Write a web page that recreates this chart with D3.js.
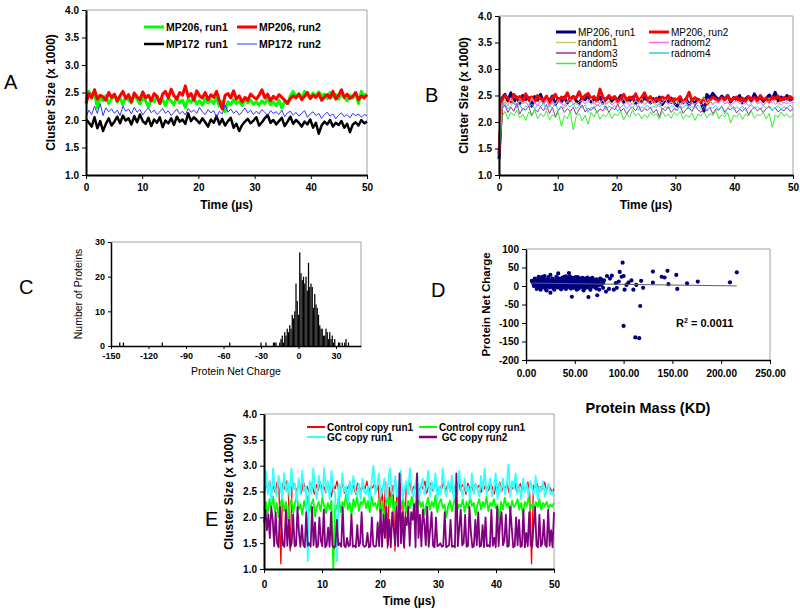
<!DOCTYPE html>
<html><head><meta charset="utf-8">
<script src="https://cdn.jsdelivr.net/npm/d3@7"></script>
<style>
body{margin:0;background:#fff}
svg text{font-family:Arial,"Liberation Sans",sans-serif;fill:#000}
</style></head><body>
<svg id="c" width="800" height="610"></svg>
<script>
// ---------------- Panel A data (cluster size x1000, evenly sampled over 0-50 µs)
const A_labels = ["MP206, run1","MP206, run2","MP172  run1","MP172  run2"];
const A_mp206_run1 = [2.38,2.52,2.45,2.50,2.22,2.41,2.35,2.44,2.30,2.38,2.45,2.33,2.40,2.28,2.42,2.36,2.31,2.44,2.38,2.29,2.41,2.35,2.24,2.39,2.33,2.43,2.30,2.37,2.26,2.40,2.34,2.28,2.42,2.31,2.36,2.23,2.38,2.32,2.40,2.29,2.35,2.27,2.38,2.31,2.36,2.30,2.41,2.25,2.34,2.15,2.33,2.28,2.37,2.30,2.34,2.26,2.39,2.31,2.36,2.29,2.33,2.27,2.35,2.30,2.38,2.28,2.33,2.26,2.36,2.22,2.34,2.30,2.44,2.52,2.43,2.48,2.40,2.52,2.45,2.41,2.49,2.43,2.51,2.44,2.47,2.39,2.50,2.42,2.46,2.38,2.48,2.41,2.35,2.45,2.40,2.49,2.30,2.52,2.44,2.47];
const A_mp206_run2 = [2.30,2.48,2.40,2.55,2.38,2.45,2.42,2.36,2.50,2.41,2.47,2.35,2.44,2.52,2.39,2.46,2.33,2.49,2.42,2.37,2.51,2.40,2.45,2.35,2.48,2.43,2.30,2.47,2.52,2.40,2.56,2.44,2.38,2.50,2.45,2.62,2.42,2.48,2.36,2.53,2.44,2.40,2.50,2.37,2.46,2.41,2.52,2.35,2.20,2.45,2.48,2.40,2.53,2.38,2.44,2.33,2.41,2.36,2.47,2.42,2.38,2.45,2.55,2.40,2.47,2.35,2.43,2.38,2.46,2.41,2.36,2.30,2.39,2.44,2.40,2.47,2.37,2.43,2.50,2.39,2.45,2.41,2.48,2.36,2.42,2.46,2.40,2.52,2.38,2.45,2.55,2.41,2.47,2.39,2.43,2.50,2.37,2.44,2.40,2.46];
const A_mp172_run1 = [2.02,1.95,1.88,2.05,1.85,1.98,1.80,1.93,2.03,1.90,1.97,2.06,1.94,2.08,1.99,2.03,1.92,2.07,1.96,2.10,1.98,1.93,2.04,1.89,2.01,1.95,2.05,1.87,1.99,1.94,2.03,1.91,2.06,1.97,2.01,1.93,2.12,1.98,2.05,2.00,1.94,2.03,1.96,1.88,2.01,1.95,2.07,1.92,2.02,1.90,1.98,2.04,1.86,1.93,1.80,1.91,1.97,2.02,1.94,1.99,2.05,1.90,1.96,2.03,2.09,1.95,2.00,1.92,1.98,2.04,1.89,1.97,2.06,1.93,2.00,1.95,1.88,1.97,1.92,2.01,1.86,1.95,1.75,1.90,1.97,1.92,2.00,1.88,1.95,1.91,1.98,1.86,1.93,1.78,1.92,1.96,1.90,2.00,1.94,1.97];
const A_mp172_run2 = [2.05,2.18,2.10,2.25,2.12,2.30,2.08,2.22,2.15,2.20,2.12,2.18,2.08,2.25,2.16,2.20,2.11,2.23,2.14,2.19,2.09,2.17,2.22,2.13,2.18,2.10,2.15,2.21,2.12,2.17,2.08,2.14,2.20,2.11,2.16,2.09,2.21,2.14,2.18,2.12,2.23,2.15,2.10,2.19,2.13,2.17,2.05,2.16,2.11,2.28,2.14,2.20,2.12,2.17,2.09,2.15,2.22,2.13,2.18,2.10,2.16,2.11,2.19,2.14,2.08,2.17,2.12,2.15,2.10,2.18,2.06,2.13,2.16,2.09,2.14,2.07,2.12,2.17,2.05,2.11,2.15,2.08,2.12,2.03,2.10,2.14,2.07,2.11,2.02,2.09,2.13,2.06,2.10,2.04,2.12,2.08,2.11,2.05,2.10,2.08];

// ---------------- Panel B data
const B_labels = ["MP206, run1","MP206, run2","random1","radnom2","random3","radnom4","random5"];
const B_mp206_run1 = [1.30,2.45,2.52,2.40,2.55,2.38,2.47,2.35,2.50,2.42,2.46,2.30,2.48,2.41,2.52,2.37,2.45,2.40,2.49,2.33,2.44,2.38,2.47,2.36,2.43,2.48,2.40,2.35,2.46,2.42,2.50,2.38,2.44,2.40,2.47,2.36,2.43,2.48,2.39,2.45,2.41,2.50,2.37,2.44,2.40,2.47,2.35,2.42,2.38,2.46,2.41,2.36,2.44,2.39,2.47,2.33,2.42,2.38,2.45,2.36,2.30,2.41,2.37,2.44,2.32,2.40,2.35,2.43,2.38,2.20,2.52,2.45,2.54,2.47,2.41,2.49,2.43,2.50,2.38,2.46,2.42,2.50,2.36,2.44,2.48,2.40,2.53,2.42,2.47,2.39,2.45,2.51,2.43,2.56,2.40,2.47,2.43,2.50,2.41,2.45];
const B_mp206_run2 = [1.40,2.42,2.50,2.45,2.38,2.52,2.44,2.48,2.40,2.53,2.43,2.47,2.38,2.50,2.44,2.41,2.49,2.36,2.46,2.52,2.40,2.47,2.43,2.55,2.41,2.48,2.45,2.57,2.43,2.50,2.54,2.44,2.48,2.40,2.62,2.46,2.42,2.50,2.44,2.48,2.38,2.45,2.52,2.41,2.47,2.43,2.53,2.40,2.46,2.55,2.42,2.48,2.38,2.45,2.40,2.47,2.43,2.50,2.37,2.44,2.41,2.48,2.36,2.43,2.56,2.40,2.46,2.42,2.38,2.45,2.34,2.41,2.47,2.43,2.39,2.46,2.42,2.49,2.40,2.44,2.47,2.41,2.45,2.39,2.48,2.43,2.46,2.40,2.50,2.42,2.45,2.38,2.47,2.44,2.49,2.41,2.46,2.43,2.48,2.44];
const B_random1 = [1.20,2.35,2.42,2.30,2.45,2.38,2.32,2.44,2.36,2.40,2.31,2.46,2.37,2.33,2.41,2.35,2.43,2.30,2.39,2.34,2.42,2.36,2.31,2.40,2.35,2.44,2.32,2.38,2.41,2.34,2.37,2.45,2.33,2.39,2.36,2.42,2.31,2.38,2.35,2.41,2.33,2.37,2.44,2.35,2.39,2.32,2.40,2.36,2.45,2.34,2.38,2.42,2.35,2.31,2.39,2.36,2.43,2.33,2.38,2.35,2.41,2.32,2.37,2.40,2.34,2.38,2.31,2.36,2.42,2.46,2.35,2.39,2.33,2.40,2.36,2.43,2.34,2.38,2.32,2.37,2.41,2.35,2.39,2.33,2.40,2.36,2.42,2.34,2.38,2.31,2.37,2.40,2.35,2.42,2.33,2.38,2.36,2.40,2.34,2.38];
const B_random2 = [1.50,2.30,2.38,2.33,2.42,2.35,2.28,2.40,2.34,2.37,2.30,2.43,2.36,2.31,2.39,2.34,2.41,2.29,2.37,2.33,2.40,2.35,2.30,2.38,2.43,2.34,2.37,2.31,2.39,2.35,2.41,2.33,2.38,2.30,2.36,2.42,2.34,2.39,2.32,2.37,2.35,2.40,2.33,2.38,2.31,2.36,2.41,2.34,2.38,2.32,2.37,2.35,2.40,2.33,2.29,2.36,2.42,2.34,2.38,2.31,2.36,2.33,2.39,2.35,2.30,2.37,2.34,2.40,2.32,2.38,2.35,2.41,2.33,2.37,2.36,2.43,2.34,2.38,2.31,2.36,2.40,2.35,2.33,2.38,2.30,2.36,2.41,2.34,2.37,2.32,2.39,2.35,2.42,2.33,2.38,2.31,2.37,2.34,2.40,2.36];
const B_random3 = [1.10,2.25,2.32,2.18,2.28,2.20,2.35,2.15,2.26,2.22,2.30,2.12,2.24,2.19,2.29,2.21,2.33,2.16,2.27,2.10,2.23,2.30,2.18,2.25,2.20,2.28,2.14,2.24,2.32,2.19,2.26,2.22,2.29,2.17,2.25,2.21,2.30,2.18,2.27,2.23,2.34,2.20,2.26,2.15,2.24,2.28,2.21,2.31,2.19,2.25,2.22,2.28,2.17,2.24,2.10,2.26,2.21,2.29,2.18,2.25,2.22,2.30,2.16,2.24,2.27,2.20,2.32,2.23,2.18,2.26,2.21,2.28,2.15,2.25,2.22,2.30,2.19,2.26,2.23,2.29,2.17,2.24,2.20,2.27,2.14,2.23,2.28,2.21,2.26,2.18,2.25,2.30,2.22,2.27,2.19,2.24,2.21,2.28,2.20,2.25];
const B_random4 = [1.35,2.28,2.35,2.24,2.31,2.38,2.26,2.33,2.22,2.30,2.27,2.34,2.25,2.32,2.29,2.36,2.23,2.31,2.27,2.34,2.21,2.29,2.26,2.33,2.28,2.35,2.24,2.30,2.27,2.32,2.18,2.28,2.25,2.33,2.29,2.36,2.23,2.30,2.26,2.31,2.20,2.28,2.33,2.25,2.30,2.27,2.34,2.22,2.29,2.26,2.32,2.24,2.30,2.27,2.35,2.23,2.29,2.25,2.31,2.28,2.22,2.30,2.26,2.33,2.24,2.29,2.27,2.32,2.25,2.30,2.23,2.28,2.26,2.31,2.24,2.29,2.15,2.27,2.32,2.24,2.28,2.25,2.30,2.22,2.27,2.33,2.25,2.29,2.23,2.30,2.26,2.28,2.21,2.27,2.31,2.24,2.29,2.26,2.32,2.27];
const B_random5 = [1.60,2.10,2.20,2.05,2.18,2.12,2.22,2.08,2.15,2.03,2.19,2.11,2.24,2.06,2.16,2.10,2.21,2.04,2.14,2.08,2.18,1.92,2.12,2.06,2.20,1.85,2.10,2.16,2.02,2.13,1.96,2.18,2.09,2.22,2.05,2.14,2.10,2.19,2.07,2.15,2.12,2.20,2.04,2.16,2.09,2.23,2.11,2.17,2.06,2.14,2.08,2.19,2.12,2.16,2.05,2.21,2.10,2.15,2.07,2.18,2.12,2.20,2.06,2.14,2.09,2.17,2.03,2.15,2.11,2.19,2.08,2.16,2.12,2.22,2.06,2.14,2.10,2.18,1.98,2.13,2.09,2.17,2.05,2.15,2.11,2.20,2.07,2.14,2.12,2.18,2.06,2.16,1.90,2.13,2.09,2.19,2.11,2.15,2.08,2.14];

// ---------------- Panel C data (histogram of protein net charge)
const C_charge = [-143,-140,-109,-55,-30,-26,-20,-19,-18,-15,-14,-13,-12,-11,-10,-9,-8,-7,-6,-5,-4,-3,-2,-1,0,1,2,3,4,5,6,7,8,9,10,11,12,13,14,15,16,17,18,19,20,21,22,23,24,25,26,27,28,29,32,33,35,37,38,40];
const C_count  = [1,1,1,1,1,1,1,1,1,1,2,3,1,4,3,5,4,6,5,9,8,10,18,13,9,27,21,19,20,18,20,16,24,17,18,17,11,15,12,11,9,6,5,5,3,3,5,4,2,4,2,3,1,2,1,1,1,1,2,1];
const C_xTicks = [-150,-120,-90,-60,-30,0,30];
const C_yTicks = [0,10,20,30];

// ---------------- Panel D data (protein mass KD, net charge)
const D_mass = [6,7,8,8,9,9,10,10,11,11,12,12,12,13,13,14,14,14,15,15,15,16,16,16,17,17,17,18,18,18,19,19,20,20,20,21,21,22,22,22,23,23,24,24,24,25,25,25,26,26,27,27,28,28,29,29,30,30,31,31,32,32,33,33,34,34,35,35,36,36,37,37,38,38,39,39,40,40,41,41,42,42,43,43,44,44,45,45,46,46,47,47,48,48,49,49,50,50,51,51,52,52,53,53,54,54,55,55,56,56,57,57,58,58,59,59,60,60,61,61,62,62,63,63,64,64,65,65,66,66,67,67,68,68,69,70,70,71,72,72,73,73,74,75,75,76,77,78,79,80,
8,10,12,14,16,18,20,22,24,26,28,30,32,34,36,38,40,42,44,46,48,50,52,54,56,58,60,62,64,66,68,70,9,11,13,15,19,21,23,27,29,33,35,37,39,41,43,45,47,49,51,53,55,57,59,61,63,65,67,69,71,74,77,79,
83,86,88,90,92,95,96,98,99,100,100,101,103,105,108,110,112,113,117,116,118,120,130,130,139,142,145,146,154,155,165,176,209,216,85,93,82];
const D_charge = [14,10,5,12,3,8,15,1,6,11,-2,4,18,9,2,7,13,-5,22,3,10,0,6,16,25,8,-3,4,12,20,1,9,-8,5,14,2,18,7,-1,11,24,4,9,-4,15,30,3,-18,8,12,1,20,6,-6,10,3,16,-2,7,25,4,12,34,-1,8,18,2,10,-9,5,14,22,1,8,-4,12,6,19,3,26,9,-2,15,4,35,7,1,12,-7,18,5,-29,10,22,3,14,-3,8,16,1,11,-10,6,24,2,13,-5,8,18,3,10,-1,22,5,12,-8,7,15,2,20,9,-4,14,5,-30,11,18,1,7,-10,13,3,22,8,-2,15,5,10,-7,18,4,-25,12,7,-10,20,3,11,-5,15,
0,7,10,2,11,-1,9,3,6,0,14,8,-4,3,11,16,0,13,-3,9,2,12,5,-1,10,0,-6,13,4,12,1,0,20,-8,25,-10,27,-12,12,8,-10,21,-6,-3,25,-8,20,26,16,-5,24,-8,21,17,-12,11,23,-5,20,10,-3,2,18,8,
27,20,28,-10,8,12,38,25,63,27,-108,-10,3,9,15,-10,-139,3,-54,-141,14,-5,39,9,25,23,41,5,30,-8,7,12,10,37,-8,-5,-15];
const D_xTicks = [0,50,100,150,200,250];
const D_yTicks = [-200,-150,-100,-50,0,50,100];
const D_r2 = "0.0011";

// ---------------- Panel E data
const E_labels = ["Control copy run1","Control copy run1","GC copy run1"," GC copy run2"];
const E_control_run1 = [2.45,2.62,2.55,2.70,2.50,2.60,2.48,2.68,2.57,1.10,2.65,2.55,2.70,2.52,1.35,2.60,2.66,2.50,2.58,2.64,2.47,2.70,2.55,2.60,2.50,2.66,2.57,2.45,2.63,2.52,2.68,2.55,2.60,2.48,2.65,2.57,2.40,2.62,2.55,2.70,2.50,2.58,2.65,2.47,2.60,2.55,2.68,2.52,2.62,2.45,2.66,2.58,2.50,2.63,2.55,2.70,2.48,2.60,2.57,2.65,2.50,2.62,2.10,2.55,2.00,2.68,1.40,2.58,2.30,2.62,1.35,2.55,2.20,2.66,2.50,1.40,2.62,2.55,2.68,2.48,2.60,2.57,2.65,2.50,2.62,2.55,2.70,2.47,2.60,2.66,2.52,2.58,2.64,2.45,2.60,2.55,2.68,2.50,2.62,2.57,2.65,2.48,2.60,2.55,2.70,2.52,2.63,2.58,2.45,2.66,2.55,2.60,2.50,2.64,2.57,2.62,2.48,2.68,2.55,2.60,2.52,2.66,2.58,2.45,2.62,2.55,2.68,2.50,2.60,2.57,2.64,2.48,2.62,2.55,2.70,2.50,2.58,2.65,2.52,2.60,2.55,2.68,2.47,1.10,2.62,2.58,2.65,2.50,2.60,2.55,2.68,2.52,2.60,2.57,2.48,2.55];
const E_control_run1b = [2.15,2.30,2.05,2.35,2.20,2.40,2.10,2.28,2.00,2.25,2.38,2.12,2.30,1.95,2.22,2.35,2.08,2.28,2.42,2.15,2.25,2.05,2.32,2.18,2.40,2.10,2.26,2.35,2.02,2.20,2.30,2.12,2.38,2.22,2.08,2.28,2.15,2.32,1.00,2.25,2.18,2.40,2.10,2.30,2.22,2.45,2.15,2.28,2.05,2.35,2.20,2.42,2.12,2.30,2.25,2.38,2.18,2.32,2.10,2.40,2.22,2.28,2.15,2.35,2.05,2.30,1.85,2.25,2.38,2.20,2.45,2.12,2.30,2.22,2.40,2.15,2.35,2.25,2.10,2.32,2.18,2.40,2.22,2.28,2.12,2.35,2.20,2.30,2.05,2.25,2.38,2.15,2.30,2.20,2.42,2.10,2.28,2.35,2.18,2.25,2.00,2.22,2.32,2.12,2.28,2.38,2.15,2.25,2.20,2.35,2.10,2.30,2.18,2.40,2.22,2.28,2.05,2.25,2.35,2.15,2.30,2.20,2.40,2.12,2.28,2.22,2.35,2.18,2.25,1.95,2.30,2.15,2.38,2.22,2.28,2.10,2.32,2.20,2.25,2.35,2.15,2.28,2.05,2.30,2.22,2.38,2.18,2.25,2.12,2.30,2.20,2.35,2.15,2.28,2.22,2.30,2.18,2.25,2.20,2.28];
const E_gc_run1 = [2.35,2.90,2.45,2.70,2.30,2.95,2.55,2.40,2.80,2.60,2.35,2.85,2.50,2.70,2.40,2.95,2.55,2.65,2.30,2.75,2.45,2.90,2.50,2.60,1.15,2.70,2.45,2.95,2.55,2.35,2.80,2.60,2.40,2.95,2.50,2.70,2.35,2.90,2.55,2.45,1.15,2.65,2.40,2.85,2.50,2.60,2.30,2.70,2.45,2.80,2.55,2.40,2.65,2.35,2.75,2.50,2.45,2.60,2.30,2.70,3.00,2.45,2.60,2.85,2.40,2.55,2.75,2.35,2.65,2.95,2.50,2.45,2.80,2.40,2.60,2.90,2.35,2.55,2.70,2.45,2.95,2.50,2.40,2.65,2.85,2.35,2.60,2.75,2.45,2.55,2.90,2.40,2.70,2.50,2.85,2.35,2.60,2.45,2.95,2.55,2.40,2.70,2.50,2.80,2.35,2.65,2.45,2.90,2.55,2.40,2.75,2.50,2.60,2.35,2.85,2.45,2.65,2.55,2.40,2.80,2.50,2.95,2.45,2.60,2.75,2.40,2.55,2.85,2.35,2.65,2.50,2.75,2.45,2.60,3.02,2.40,2.70,2.55,2.85,2.45,2.60,2.35,2.75,2.50,2.65,2.40,2.70,2.55,2.45,2.80,2.35,2.60,2.50,2.70,2.40,2.55,2.65,2.45,2.50,2.40];
const E_gc_run2 = [1.90,2.15,1.75,2.05,1.60,2.20,1.95,1.44,2.10,1.50,1.42,2.20,1.80,1.46,1.43,2.15,1.45,1.95,1.41,1.50,2.05,1.44,1.46,2.20,1.70,1.43,1.85,1.47,1.42,2.10,1.45,1.50,1.43,2.20,1.46,1.90,1.42,1.44,2.00,1.55,
1.44,2.15,1.42,1.46,1.80,1.43,2.10,1.45,1.41,1.44,1.95,1.46,1.50,1.43,2.20,1.45,1.42,1.60,1.44,1.46,2.05,1.43,1.45,1.42,1.85,1.44,1.50,2.10,1.46,1.43,1.45,1.70,1.42,1.44,2.00,1.46,1.43,1.45,1.90,1.44,
2.15,1.43,2.05,1.60,2.20,1.45,1.95,1.42,2.10,1.80,1.46,2.20,1.44,2.85,1.50,2.10,1.43,2.00,1.85,2.20,1.45,2.10,1.95,2.25,1.42,2.85,1.60,2.05,1.44,2.15,1.90,1.46,2.20,1.43,1.75,2.10,1.45,1.42,2.00,1.44,
1.46,1.50,1.43,1.45,2.10,1.42,1.44,1.46,1.95,1.43,1.45,1.42,2.85,1.44,1.80,2.15,1.46,1.50,2.05,1.43,1.45,2.20,1.70,1.42,1.44,1.95,1.46,2.10,1.43,1.45,1.85,1.42,2.00,1.44,1.46,1.43,2.15,1.45,1.60,1.42,
2.20,1.44,1.90,2.10,1.46,1.55,2.05,1.43,1.45,2.20,1.80,1.42,1.44,2.00,1.46,1.95,1.43,1.45,2.15,1.42,1.70,1.44,2.10,1.46,1.43,1.85,2.20,1.45,1.42,2.05,1.44,1.50,1.95,1.46,1.43,2.15,1.45,1.75,1.42,2.10];

const timeTicks = [0,10,20,30,40,50];
const sizeTicks = [1.0,1.5,2.0,2.5,3.0,3.5,4.0];

// ====================================================================
const svg = d3.select("#c");
const GRAY = "#a0a0a0";
const plainInt = d => String(d);

function styleAxis(g, w, fs, bold) {
  g.select(".domain").attr("stroke","#000").attr("stroke-width",w);
  g.selectAll(".tick line").attr("stroke","#000").attr("stroke-width",1);
  g.selectAll(".tick text").attr("font-size",fs).attr("font-weight",bold?"bold":"normal")
    .attr("font-family",'Arial,"Liberation Sans",sans-serif').attr("fill","#000");
}

function frame(box) {
  svg.append("path").attr("d",`M${box.x0},${box.y0}H${box.x1}V${box.y1}`)
    .attr("fill","none").attr("stroke",GRAY).attr("stroke-width",1);
}

function axes(box, x, y, o) {
  const gx = svg.append("g").attr("transform",`translate(0,${box.y1})`)
    .call(d3.axisBottom(x).tickValues(o.xTicks).tickSize(o.tick).tickSizeOuter(0).tickPadding(o.xPad).tickFormat(o.xFmt));
  styleAxis(gx, o.axisW, o.fs, o.bold);
  const gy = svg.append("g").attr("transform",`translate(${box.x0},0)`)
    .call(d3.axisLeft(y).tickValues(o.yTicks).tickSize(o.tick).tickSizeOuter(0).tickPadding(o.yPad).tickFormat(o.yFmt));
  styleAxis(gy, o.axisW, o.fs, o.bold);
}

function text(x, y, s, o) {
  const t = svg.append("text").attr("x",x).attr("y",y).text(s)
    .attr("font-size",o.fs).attr("font-weight",o.bold?"bold":"normal")
    .attr("text-anchor",o.anchor||"start").style("white-space","pre");
  if (o.rot) t.attr("transform",`rotate(-90,${x},${y})`);
  return t;
}

function timePanel(box, series, yTitleX, xTitleY, legend) {
  const x = d3.scaleLinear().domain([0,50]).range([box.x0, box.x1]);
  const y = d3.scaleLinear().domain([1,4]).range([box.y1, box.y0]);
  frame(box);
  series.forEach(s => {
    const n = s.values.length;
    const line = d3.line().x((d,i)=>x(i*50/(n-1))).y(d=>y(d));
    svg.append("path").datum(s.values).attr("d",line).attr("fill","none")
      .attr("stroke",s.color).attr("stroke-width",s.width).attr("stroke-linejoin","round");
  });
  axes(box, x, y, {xTicks:timeTicks, yTicks:sizeTicks, tick:4, xPad:legend.xPad||5, yPad:3,
    xFmt:plainInt, yFmt:d3.format(".1f"), axisW:2, fs:10, bold:true});
  text(yTitleX, (box.y0+box.y1)/2, "Cluster Size (x 1000)", {fs:12, bold:true, anchor:"middle", rot:true});
  text((box.x0+box.x1)/2, xTitleY, "Time (µs)", {fs:12, bold:true, anchor:"middle"});
  series.forEach((s,i) => {
    const p = legend.pos[i];
    svg.append("line").attr("x1",p[0]).attr("x2",p[0]+legend.len).attr("y1",p[1]).attr("y2",p[1])
      .attr("stroke",s.color).attr("stroke-width",s.lw||s.width);
    text(p[0]+legend.len+2, p[1]+3.5, s.label, {fs:legend.fs, bold:legend.bold});
  });
}

// ---------- Panel A
timePanel({x0:86,x1:367,y0:10,y1:175}, [
  {label:A_labels[0], values:A_mp206_run1, color:"#00ff00", width:3},
  {label:A_labels[1], values:A_mp206_run2, color:"#ff0000", width:3},
  {label:A_labels[2], values:A_mp172_run1, color:"#000000", width:2.5},
  {label:A_labels[3], values:A_mp172_run2, color:"#3333ff", width:1}
], 55, 209, {pos:[[144,27],[237,27],[144,44],[237,44]], len:20, fs:10.5, bold:true});
text(4, 89, "A", {fs:20});

// ---------- Panel B
timePanel({x0:499,x1:793,y0:16,y1:175}, [
  {label:B_labels[0], values:B_mp206_run1, color:"#000080", width:3},
  {label:B_labels[1], values:B_mp206_run2, color:"#ff0000", width:3},
  {label:B_labels[2], values:B_random1, color:"#c8c864", width:1, lw:1.5},
  {label:B_labels[3], values:B_random2, color:"#ff66ff", width:1, lw:1.5},
  {label:B_labels[4], values:B_random3, color:"#993399", width:1, lw:1.5},
  {label:B_labels[5], values:B_random4, color:"#33cccc", width:1, lw:1.5},
  {label:B_labels[6], values:B_random5, color:"#33ee33", width:1, lw:1.5}
], 468, 209, {pos:[[556,32],[649,32],[556,42.5],[649,42.5],[556,53],[649,53],[556,63.5]], len:20, fs:10, bold:false});
text(425, 102, "B", {fs:20});

// ---------- Panel C
(function(){
  const box = {x0:111,x1:361,y0:242,y1:346};
  const x = d3.scaleLinear().domain([-150,50]).range([box.x0,box.x1]);
  const y = d3.scaleLinear().domain([0,30]).range([box.y1,box.y0]);
  frame(box);
  const bw = x(1)-x(0);
  svg.append("g").selectAll("rect").data(C_charge.map((c,i)=>({c, n:C_count[i]}))).join("rect")
    .attr("x",d=>x(d.c)-bw/2).attr("width",bw).attr("y",d=>y(d.n)).attr("height",d=>y(0)-y(d.n))
    .attr("fill","#000");
  axes(box, x, y, {xTicks:C_xTicks, yTicks:C_yTicks, tick:3, xPad:4, yPad:3,
    xFmt:plainInt, yFmt:plainInt, axisW:1.5, fs:9, bold:true});
  text(82, (box.y0+box.y1)/2, "Number of Proteins", {fs:10.5, anchor:"middle", rot:true});
  text(236, 375, "Protein Net Charge", {fs:10.5, anchor:"middle"});
  text(19, 294, "C", {fs:20});
})();

// ---------- Panel D
(function(){
  const box = {x0:526,x1:770,y0:249,y1:360};
  const x = d3.scaleLinear().domain([0,250]).range([box.x0,box.x1]);
  const y = d3.scaleLinear().domain([-200,100]).range([box.y1,box.y0]);
  frame(box);
  const pts = D_mass.map((m,i)=>({m, c:D_charge[i]}));
  const mx = d3.mean(pts,d=>d.m), my = d3.mean(pts,d=>d.c);
  const slope = d3.sum(pts,d=>(d.m-mx)*(d.c-my)) / d3.sum(pts,d=>(d.m-mx)*(d.m-mx));
  const icpt = my - slope*mx;
  const ext = d3.extent(pts,d=>d.m);
  svg.append("g").selectAll("circle").data(pts).join("circle")
    .attr("cx",d=>x(d.m)).attr("cy",d=>y(d.c)).attr("r",2.1).attr("fill","#000080");
  svg.append("line").attr("x1",x(ext[0])).attr("x2",x(ext[1]))
    .attr("y1",y(icpt+slope*ext[0])).attr("y2",y(icpt+slope*ext[1]))
    .attr("stroke","#606060").attr("stroke-width",1);
  axes(box, x, y, {xTicks:D_xTicks, yTicks:D_yTicks, tick:4, xPad:6, yPad:3,
    xFmt:d3.format(".2f"), yFmt:plainInt, axisW:1.5, fs:10, bold:true});
  text(490, (box.y0+box.y1)/2, "Protein Net Charge", {fs:11.5, bold:true, anchor:"middle", rot:true});
  text(648, 413, "Protein Mass (KD)", {fs:14.5, bold:true, anchor:"middle"});
  const r = text(676, 327, "R", {fs:11, bold:true});
  r.append("tspan").attr("dy",-4).attr("font-size",7).text("2");
  r.append("tspan").attr("dy",4).text(" = " + D_r2);
  text(431, 297, "D", {fs:20});
})();

// ---------- Panel E
timePanel({x0:264,x1:554,y0:414,y1:569}, [
  {label:E_labels[0], values:E_control_run1, color:"#ff0000", width:1.3, lw:2},
  {label:E_labels[1], values:E_control_run1b, color:"#00ff00", width:1.8, lw:2},
  {label:E_labels[2], values:E_gc_run1, color:"#33ffff", width:1.8, lw:2},
  {label:E_labels[3], values:E_gc_run2, color:"#800080", width:1.8, lw:2.5}
], 233, 605, {pos:[[307,427],[419,427],[307,437],[419,437]], len:18, fs:10, bold:true, xPad:8});
text(205, 526, "E", {fs:20});
</script>
</body></html>
